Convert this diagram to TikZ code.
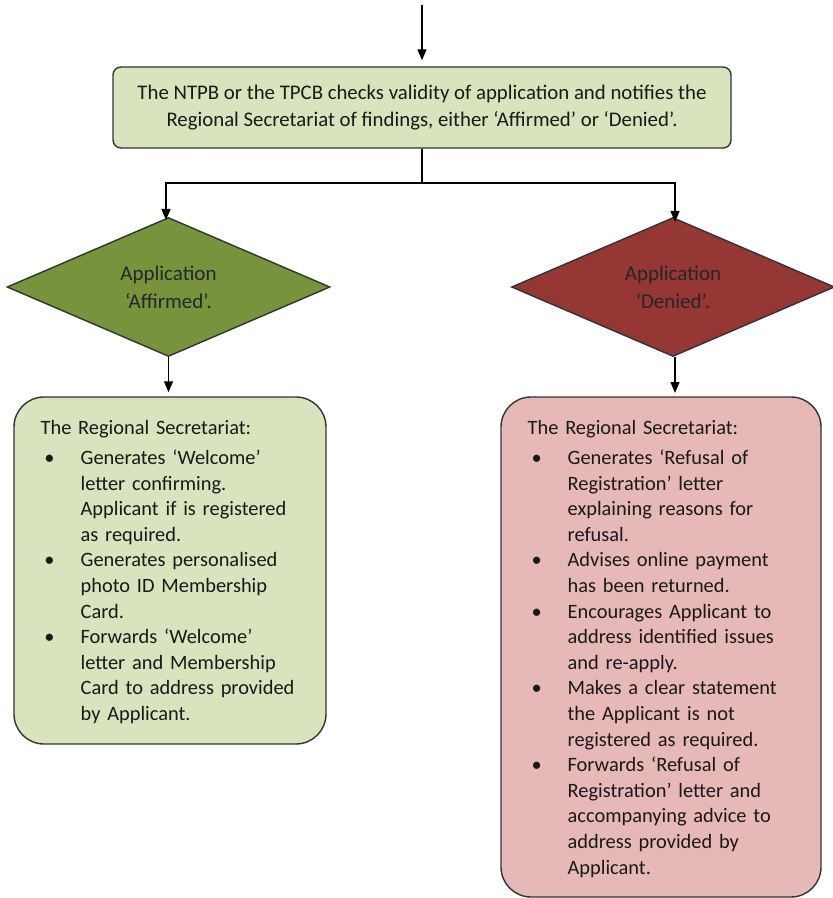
\documentclass[tikz,border=0pt]{standalone}
\usepackage{fontspec}
\setmainfont{Carlito}
\usetikzlibrary{shapes.geometric,arrows.meta,positioning}

\definecolor{palegreen}{HTML}{D7E4BD}
\definecolor{olivegreen}{HTML}{77933C}
\definecolor{darkred}{HTML}{953735}
\definecolor{palered}{HTML}{E6B9B8}

\newcommand{\itm}{\par\leavevmode\llap{\textbullet\hspace{13pt}}}

\begin{document}
\begin{tikzpicture}
[x=0.5pt,y=-0.5pt, line width=0.65pt,
 >={Triangle[width=4.5pt,length=5.5pt]},
 flowbox/.style={draw=black!80, line width=0.7pt, rounded corners=4pt, fill=palegreen},
 roundbox/.style={draw=black!80, line width=0.7pt, rounded corners=15pt},
 decision/.style={diamond, draw=black!80, line width=0.7pt, inner sep=0pt,
   minimum width=161.5pt, minimum height=66.5pt, align=center,
   font=\fontsize{10.5}{14}\selectfont, text=black!85},
 listtext/.style={anchor=north west, inner sep=0pt, align=left, text=black!90,
   font=\fontsize{10.2}{12.8}\selectfont}]
\useasboundingbox (0,0) rectangle (833,898);

% top box
\coordinate (in) at (422,5);
\node (check) at (422,107.5)[flowbox, minimum width=309pt, minimum height=40.5pt,
  align=center, text=black!90, font=\fontsize{10.4}{13.5}\selectfont]
  {The NTPB or the TPCB checks validity of application and notifies the\\
   Regional Secretariat of findings, either ‘Affirmed’ or ‘Denied’.};
\coordinate (split) at (422,183);

% decisions
\node (yes) at (168.5,287)[decision, fill=olivegreen] {Application\\‘Affirmed’.};
\node (no) at (673,287)[decision, fill=darkred] {Application\\‘Denied’.};

% outcome boxes
\node (yesbox) at (170,570.5)[roundbox, fill=palegreen,
  minimum width=156pt, minimum height=173.5pt] {};
\node (nobox) at (661,647)[roundbox, fill=palered,
  minimum width=160pt, minimum height=250pt] {};

\node (yestext) at (40,420)[listtext, text width=140pt]
  {The Regional Secretariat:\par\vspace{2pt}\leftskip=20pt
   \itm Generates ‘Welcome’\\ letter confirming.\\ Applicant if is registered\\ as required.
   \itm Generates personalised\\ photo ID Membership\\ Card.
   \itm Forwards ‘Welcome’\\ letter and Membership\\ Card to address provided\\ by Applicant.\par};
\node (notext) at (527,420)[listtext, text width=140pt]
  {The Regional Secretariat:\par\vspace{2pt}\leftskip=20pt
   \itm Generates ‘Refusal of\\ Registration’ letter\\ explaining reasons for\\ refusal.
   \itm Advises online payment\\ has been returned.
   \itm Encourages Applicant to\\ address identified issues\\ and re-apply.
   \itm Makes a clear statement\\ the Applicant is not\\ registered as required.
   \itm Forwards ‘Refusal of\\ Registration’ letter and\\ accompanying advice to\\ address provided by\\ Applicant.\par};

% connectors
\draw[->, shorten >=3pt] (in) -- (check.north);
\draw (check.south) -- (split);
\draw[->] (split) -| (166,220);
\draw[->] (split) -| (675,222);
\draw[->, shorten >=2pt] (yes.south) -- (yes.south |- yesbox.north);
\draw[->, shorten <=3pt, shorten >=2pt] (675,351) -- (675,397);
\end{tikzpicture}
\end{document}
